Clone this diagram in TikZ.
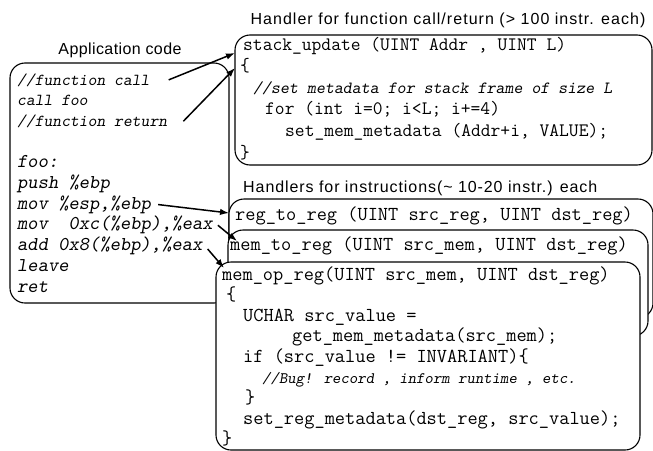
\documentclass[tikz,border=0pt]{standalone}
\usepackage{fontspec}
\setmainfont{Liberation Sans}
\usetikzlibrary{arrows.meta,calc}

\begin{document}
\begin{tikzpicture}[x=1pt,y=-1pt,
  panel/.style={draw, line width=1.1pt, rounded corners=15pt, fill=white,
    anchor=north west, inner sep=0pt, outer sep=0pt},
  ttl/.style={inner sep=0pt, font=\fontsize{16}{18}\selectfont},
  appc/.style={anchor=base west, inner sep=0pt, font=\ttfamily\slshape\fontsize{19.6}{22}\selectfont},
  appcm/.style={appc, font=\ttfamily\slshape\fontsize{16.8}{20}\selectfont},
  stk/.style={anchor=base west, inner sep=0pt, font=\ttfamily\fontsize{19}{22}\selectfont},
  stkc/.style={stk, font=\ttfamily\slshape\fontsize{17.1}{20}\selectfont},
  ins/.style={anchor=base west, inner sep=0pt, font=\ttfamily\fontsize{19.8}{22}\selectfont},
  insc/.style={ins, font=\ttfamily\slshape\fontsize{16}{18}\selectfont},
  arr/.style={line width=1.5pt, -{Latex[length=9pt,width=6.5pt]}}
]
\useasboundingbox (0,0) rectangle (653,450);

% application code panel (drawn first, partly hidden by the handler panels)
\node[panel, minimum width=219pt, minimum height=240pt] (app) at (10,63) {};

% instruction handler panels, stacked back to front
\node[panel, minimum width=424pt, minimum height=119pt] (reg) at (229,199) {};
\node[panel, minimum width=420pt, minimum height=106pt] (mtr) at (228,230) {};
\node[panel, minimum width=424pt, minimum height=188pt] (mop) at (216,262) {};

% function call/return handler panel
\node[panel, minimum width=417pt, minimum height=130pt] (stk) at (235,35) {};

% headings
\node[ttl, font=\fontsize{16}{18}\selectfont\addfontfeatures{LetterSpace=2.5}] (tapp) at (120,50) {Application code};
\node[ttl, font=\fontsize{16}{18}\selectfont\addfontfeatures{LetterSpace=6.5}] (tstk) at (448,20) {Handler for function call/return (> 100 instr. each)};
\node[ttl, anchor=west, font=\fontsize{16}{18}\selectfont\addfontfeatures{LetterSpace=5.8}] (tins) at (243,188) {Handlers for instructions(\textasciitilde{} 10-20 instr.) each};

% application code
\node[appcm] (a1) at (17,85) {//function call};
\node[appcm] (a2) at (17,105.7) {call foo};
\node[appcm] (a3) at (17,126.4) {//function return};
\node[appc] (a4) at (17,167.8) {foo:};
\node[appc] (a5) at (17,188.5) {push \%ebp};
\node[appc] (a6) at (17,209.2) {mov \%esp,\%ebp};
\node[appc] (a7) at (17,229.9) {mov\ \ 0xc(\%ebp),\%eax};
\node[appc] (a8) at (17,250.6) {add 0x8(\%ebp),\%eax};
\node[appc] (a9) at (17,271.3) {leave};
\node[appc] (a10) at (17,292) {ret};

% stack_update handler
\node[stk] (s1) at (243,50) {stack\_update (UINT Addr , UINT L)};
\node[stk] (s2) at (240,71.6) {\{};
\node[stkc] (s3) at (253,93.2) {//set metadata for stack frame of size L};
\node[stk] (s4) at (265,114.8) {for (int i=0; i<L; i+=4)};
\node[stk] (s5) at (285,136.4) {set\_mem\_metadata (Addr+i, VALUE);};
\node[stk] (s6) at (240,158) {\}};

% instruction handlers
\node[ins] (r1) at (235,220) {reg\_to\_reg (UINT src\_reg, UINT dst\_reg)};
\node[ins] (m1) at (230,250) {mem\_to\_reg (UINT src\_mem, UINT dst\_reg)};
\node[ins] (o1) at (222,280) {mem\_op\_reg(UINT src\_mem, UINT dst\_reg)};
\node[ins] (o2) at (226,300.6) {\{};
\node[ins] (o3) at (243,321.2) {UCHAR src\_value =};
\node[ins] (o4) at (292,341.8) {get\_mem\_metadata(src\_mem);};
\node[ins] (o5) at (243,362.4) {if (src\_value != INVARIANT)\{};
\node[insc] (o6) at (262,383) {//Bug! record , inform runtime , etc.};
\node[ins] (o7) at (245,403.6) {\}};
\node[ins] (o8) at (243,424.2) {set\_reg\_metadata(dst\_reg, src\_value);};
\node[ins] (o9) at (222,444.8) {\}};

% instrumentation links
\draw[arr] ([xshift=19pt]a1.east) -- ([yshift=-18pt]stk.north west);
\draw[arr] ([xshift=16pt]a3.east) -- ([yshift=-33pt]stk.north west);
\draw[arr] ([xshift=7pt]a6.east) -- ([yshift=-14pt]reg.north west);
\draw[arr] ([xshift=5pt]a7.east) -- ([xshift=9pt,yshift=-11pt]mtr.north west);
\draw[arr] ([xshift=5pt,yshift=-3pt]a8.east) -- ([xshift=8pt,yshift=-6pt]mop.north west);
\end{tikzpicture}
\end{document}
